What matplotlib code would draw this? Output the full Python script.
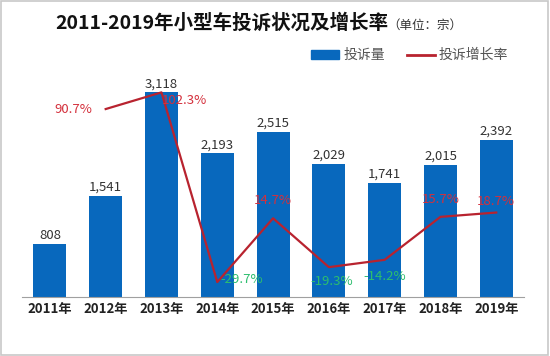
import numpy as np
import matplotlib.pyplot as plt
from matplotlib.patches import Patch
from matplotlib.lines import Line2D

plt.rcParams['font.family'] = ['Noto Sans CJK SC', 'DejaVu Sans']

years = ['2011年', '2012年', '2013年', '2014年', '2015年', '2016年', '2017年', '2018年', '2019年']
complaints = [808, 1541, 3118, 2193, 2515, 2029, 1741, 2015, 2392]
# growth rate starts in 2012
growth = [90.7, 102.3, -29.7, 14.7, -19.3, -14.2, 15.7, 18.7]
# label offsets (points) and alignment for each growth label
growth_offsets = [(-10, 0, 'right', 'center'), (0, -6, 'left', 'center'),
                  (2, 2, 'left', 'center'), (0, 8, 'center', 'bottom'),
                  (2, -6, 'center', 'top'), (0, -7, 'center', 'top'),
                  (0, 8, 'center', 'bottom'), (0, 3, 'center', 'bottom')]

bar_color = '#0868BD'
line_color = '#B8232F'
red_text = '#D4303C'
green_text = '#2DBE6E'

fig = plt.figure(figsize=(5.5, 3.56), dpi=100)
ax = fig.add_axes([0.04, 0.166, 0.913, 0.646])
x = np.arange(len(years))

ax.bar(x, complaints, width=0.59, color=bar_color, zorder=2)
for xi, v in zip(x, complaints):
    ax.text(xi, v + 25, f'{v:,}', ha='center', va='bottom', fontsize=9.5, color='#333333')

ax.set_xlim(-0.5, len(years) - 0.5)
ax.set_ylim(0, 3500)
ax.set_yticks([])
ax.set_xticks(x)
ax.set_xticklabels(years, fontsize=9.5, fontweight='bold', color='#222222')
ax.tick_params(axis='x', length=0, pad=4)
for s in ['top', 'right', 'left']:
    ax.spines[s].set_visible(False)
ax.spines['bottom'].set_color('#A0A0A0')

ax2 = ax.twinx()
ax2.set_ylim(-40, 120)
ax2.set_yticks([])
for s in ax2.spines.values():
    s.set_visible(False)
gx = x[1:]
ax2.plot(gx, growth, color=line_color, lw=1.6, zorder=3)
for xi, g, (dx, dy, ha, va) in zip(gx, growth, growth_offsets):
    ax2.annotate(f'{g}%', (xi, g), xytext=(dx, dy), textcoords='offset points',
                 ha=ha, va=va, fontsize=9.5, color=red_text if g > 0 else green_text)

fig.text(0.1, 0.935, '2011-2019年小型车投诉状况及增长率', fontsize=14, fontweight='bold',
         ha='left', va='center', color='#111111')
fig.text(0.705, 0.93, '（单位：宗）', fontsize=9, ha='left', va='center', color='#333333')

handles = [Patch(color=bar_color), Line2D([], [], color=line_color, lw=2)]
fig.legend(handles, ['投诉量', '投诉增长率'], loc='center', bbox_to_anchor=(0.745, 0.845),
           ncol=2, frameon=False, fontsize=10, handlelength=2.0, handleheight=0.6,
           columnspacing=1.6, handletextpad=0.3, labelcolor='#555555')

fig.patches.append(plt.Rectangle((0.002, 0.003), 0.995, 0.994, transform=fig.transFigure,
                                 fill=False, edgecolor='#C8C8C8', lw=1.2))

fig.savefig('out.png', dpi=100)
